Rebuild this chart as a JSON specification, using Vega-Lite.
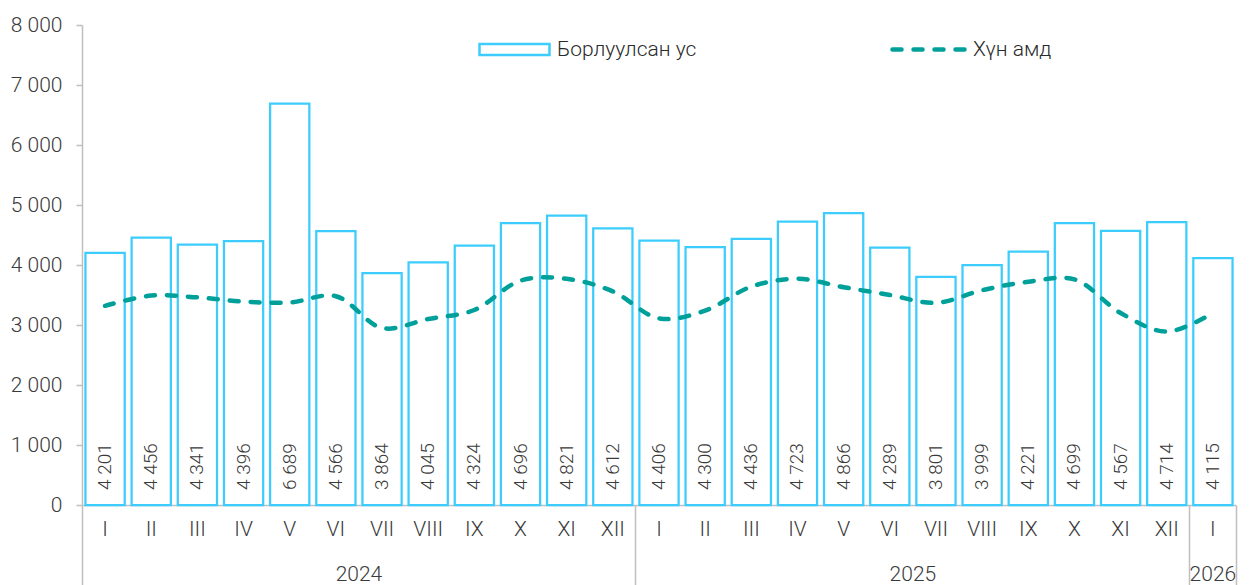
{
  "$schema": "https://vega.github.io/schema/vega-lite/v6.json",
  "width": 1154,
  "height": 480,
  "autosize": {"type": "none"},
  "padding": {"left": 82, "top": 25, "right": 13, "bottom": 80},
  "background": "white",
  "config": {
    "font": "Roboto",
    "view": {"stroke": null},
    "locale": {"number": {"decimal": ",", "thousands": " ", "grouping": [3], "currency": ["", ""]}},
    "axis": {
      "labelFont": "Roboto",
      "labelFontWeight": 300,
      "labelFontSize": 21,
      "labelColor": "#3a3a3a",
      "domainColor": "#bfbfbf",
      "tickColor": "#bfbfbf",
      "domainWidth": 1.5,
      "tickWidth": 1.5,
      "grid": false,
      "title": null
    },
    "legend": {
      "labelFont": "Roboto",
      "labelFontWeight": 300,
      "labelFontSize": 21,
      "labelColor": "#2a2a2a",
      "title": null
    }
  },
  "resolve": {"axis": {"x": "independent"}},
  "data": {
    "values": [
      {"period": "2024 I", "year": "2024", "month": "I", "sales": 4201, "pop": 3320},
      {"period": "2024 II", "year": "2024", "month": "II", "sales": 4456, "pop": 3490},
      {"period": "2024 III", "year": "2024", "month": "III", "sales": 4341, "pop": 3460},
      {"period": "2024 IV", "year": "2024", "month": "IV", "sales": 4396, "pop": 3390},
      {"period": "2024 V", "year": "2024", "month": "V", "sales": 6689, "pop": 3375},
      {"period": "2024 VI", "year": "2024", "month": "VI", "sales": 4566, "pop": 3480},
      {"period": "2024 VII", "year": "2024", "month": "VII", "sales": 3864, "pop": 2950},
      {"period": "2024 VIII", "year": "2024", "month": "VIII", "sales": 4045, "pop": 3100},
      {"period": "2024 IX", "year": "2024", "month": "IX", "sales": 4324, "pop": 3250},
      {"period": "2024 X", "year": "2024", "month": "X", "sales": 4696, "pop": 3740},
      {"period": "2024 XI", "year": "2024", "month": "XI", "sales": 4821, "pop": 3770},
      {"period": "2024 XII", "year": "2024", "month": "XII", "sales": 4612, "pop": 3560},
      {"period": "2025 I", "year": "2025", "month": "I", "sales": 4406, "pop": 3110},
      {"period": "2025 II", "year": "2025", "month": "II", "sales": 4300, "pop": 3240},
      {"period": "2025 III", "year": "2025", "month": "III", "sales": 4436, "pop": 3640},
      {"period": "2025 IV", "year": "2025", "month": "IV", "sales": 4723, "pop": 3770},
      {"period": "2025 V", "year": "2025", "month": "V", "sales": 4866, "pop": 3630},
      {"period": "2025 VI", "year": "2025", "month": "VI", "sales": 4289, "pop": 3500},
      {"period": "2025 VII", "year": "2025", "month": "VII", "sales": 3801, "pop": 3370},
      {"period": "2025 VIII", "year": "2025", "month": "VIII", "sales": 3999, "pop": 3580},
      {"period": "2025 IX", "year": "2025", "month": "IX", "sales": 4221, "pop": 3720},
      {"period": "2025 X", "year": "2025", "month": "X", "sales": 4699, "pop": 3760},
      {"period": "2025 XI", "year": "2025", "month": "XI", "sales": 4567, "pop": 3200},
      {"period": "2025 XII", "year": "2025", "month": "XII", "sales": 4714, "pop": 2890},
      {"period": "2026 I", "year": "2026", "month": "I", "sales": 4115, "pop": 3200}
    ]
  },
  "layer": [
    {
      "mark": {"type": "bar", "fill": "white", "strokeWidth": 2.25, "width": {"band": 0.85}},
      "encoding": {
        "x": {
          "field": "period",
          "type": "nominal",
          "sort": null,
          "scale": {"paddingInner": 0, "paddingOuter": 0},
          "axis": {
            "orient": "bottom",
            "labelAngle": 0,
            "labelExpr": "split(datum.label, ' ')[1]",
            "bandPosition": 0,
            "tickSize": 80,
            "tickColor": {"condition": {"test": "split(datum.value, ' ')[1] === 'I'", "value": "#bfbfbf"}, "value": "transparent"},
            "labelPadding": -67
          }
        },
        "y": {
          "field": "sales",
          "type": "quantitative",
          "scale": {"domain": [0, 8000]},
          "axis": {
            "values": [0, 1000, 2000, 3000, 4000, 5000, 6000, 7000, 8000],
            "format": ",d",
            "tickSize": 6,
            "labelPadding": 14
          }
        },
        "stroke": {
          "datum": "Борлуулсан ус",
          "scale": {"range": ["#3dcdfd"]},
          "legend": {
            "orient": "none",
            "legendX": 396,
            "legendY": -12,
            "symbolType": "M-1,-0.157H1V0.157H-1Z",
            "symbolSize": 4900,
            "symbolFillColor": "white",
            "symbolStrokeWidth": 2.5,
            "labelOffset": 6
          }
        }
      }
    },
    {
      "mark": {"type": "text", "angle": 270, "align": "left", "baseline": "middle", "dx": 15, "fontSize": 19, "fontWeight": 300, "color": "#3a3a3a"},
      "encoding": {
        "x": {"field": "period", "type": "nominal", "sort": null, "axis": null},
        "y": {"datum": 0, "type": "quantitative"},
        "text": {"field": "sales", "type": "quantitative", "format": ",d"}
      }
    },
    {
      "mark": {"type": "line", "interpolate": "catmull-rom", "color": "#00a09a", "strokeWidth": 4.5, "strokeCap": "round"},
      "encoding": {
        "x": {
          "field": "period",
          "type": "nominal",
          "sort": null,
          "axis": {
            "orient": "bottom",
            "labels": false,
            "domain": false,
            "bandPosition": 1,
            "tickSize": 80,
            "tickColor": {"condition": {"test": "datum.value === '2026 I'", "value": "#bfbfbf"}, "value": "transparent"}
          }
        },
        "y": {"field": "pop", "type": "quantitative"},
        "strokeDash": {
          "datum": "Хүн амд",
          "scale": {"range": [[9, 12]]},
          "legend": {
            "orient": "none",
            "legendX": 808,
            "legendY": -14,
            "symbolType": "stroke",
            "symbolSize": 5184,
            "symbolStrokeColor": "#00a09a",
            "symbolStrokeWidth": 4.5,
            "labelOffset": 6,
            "encode": {"symbols": {"update": {"strokeCap": {"value": "round"}}}}
          }
        }
      }
    },
    {
      "transform": [{"filter": "datum.month === 'VI'"}],
      "mark": {"type": "text", "align": "center", "baseline": "alphabetic", "dy": 76, "fontSize": 21, "fontWeight": 300, "color": "#3a3a3a"},
      "encoding": {
        "x": {"field": "period", "type": "nominal", "sort": null, "bandPosition": 1, "axis": null},
        "y": {"datum": 0, "type": "quantitative"},
        "text": {"field": "year", "type": "nominal"}
      }
    },
    {
      "transform": [{"filter": "datum.year === '2026'"}],
      "mark": {"type": "text", "align": "center", "baseline": "alphabetic", "dy": 76, "fontSize": 21, "fontWeight": 300, "color": "#3a3a3a"},
      "encoding": {
        "x": {"field": "period", "type": "nominal", "sort": null, "axis": null},
        "y": {"datum": 0, "type": "quantitative"},
        "text": {"field": "year", "type": "nominal"}
      }
    }
  ]
}
